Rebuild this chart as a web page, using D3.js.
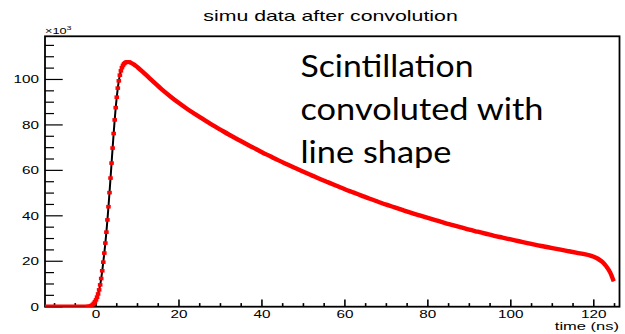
<!DOCTYPE html>
<html>
<head>
<meta charset="utf-8">
<script src="https://cdn.jsdelivr.net/npm/d3@7"></script>
<style>
  body { margin: 0; background: #fff; }
  svg { display: block; font-family: "Liberation Sans", Arial, Helvetica, sans-serif; }
</style>
</head>
<body>
<svg id="chart"></svg>
<script>
// time in ns, amplitude in units of 10^3
var baseTimes  = [-13, -12, -11, -10, -9, -8, -7, -6, -5, -4, -3, -2];
var baseValues = [0, 0, 0, 0, 0, 0, 0, 0, 0, 0, 0, 0];

// rising edge, sampled finer (markers visible here)
var riseTimes  = [-2, -1.75, -1.5, -1.25, -1, -0.75, -0.5, -0.25, 0, 0.25, 0.5, 0.75,
                  1, 1.25, 1.5, 1.75, 2, 2.25, 2.5, 2.75, 3, 3.25, 3.5, 3.75,
                  4, 4.25, 4.5, 4.75, 5, 5.25, 5.5, 5.75, 6, 6.25, 6.5, 6.75,
                  7, 7.25, 7.5, 7.75, 8];
var riseValues = [0, 0.1, 0.2, 0.35, 0.6, 1.0, 1.5, 2.2, 3.0, 4.2, 5.6, 7.4,
                  9.6, 12.4, 15.8, 19.6, 23.6, 28.0, 32.8, 38.2, 44.0, 50.2, 56.6, 63.2,
                  69.8, 76.2, 82.2, 87.6, 92.2, 96.2, 99.4, 101.9, 103.8, 105.2, 106.2, 106.9,
                  107.3, 107.6, 107.7, 107.7, 107.6];

// decay tail
var tailTimes  = [8, 9, 10, 11, 12, 13, 14, 16, 18, 20, 22, 24, 26, 28, 30, 32, 34, 36, 38, 40,
                  42, 44, 46, 48, 50, 52, 54, 56, 58, 60, 62, 64, 66, 68, 70, 72, 74, 76, 78, 80,
                  82, 84, 86, 88, 90, 92, 94, 96, 98, 100, 102, 104, 106, 108, 110, 112, 114, 116, 118,
                  119, 120, 121, 122, 123, 124, 124.8];
var tailValues = [107.6, 106.8, 105.4, 103.8, 102.1, 100.4, 98.7, 95.4, 92.4, 89.6, 87.0, 84.6, 82.3, 80.0, 77.9, 75.8, 73.8, 71.8, 69.9, 68.0,
                  66.2, 64.4, 62.7, 61.0, 59.4, 57.8, 56.2, 54.7, 53.2, 51.7, 50.3, 48.9, 47.5, 46.2, 44.9, 43.7, 42.5, 41.3, 40.2, 39.1,
                  38.0, 36.9, 35.9, 34.9, 33.9, 33.0, 32.1, 31.2, 30.4, 29.6, 28.8, 28.0, 27.2, 26.5, 25.8, 25.1, 24.4, 23.7, 23.0,
                  22.6, 22.0, 21.1, 19.8, 17.8, 14.9, 11.2];

var xTickLabels = [0, 20, 40, 60, 80, 100, 120];
var yTickLabels = [0, 20, 40, 60, 80, 100];
var titleText = "simu data after convolution";
var xAxisTitle = "time (ns)";
var noteLines = ["Scintillation", "convoluted with", "line shape"];

var w = 625, h = 334;
var frame = {left: 45, right: 619.5, top: 36.3, bottom: 306.7};
var sx = 1.5; // labels in the picture are stretched horizontally

var x = d3.scaleLinear().domain([-12.3, 126.2]).range([frame.left, frame.right]);
var y = d3.scaleLinear().domain([0, 119]).range([frame.bottom, frame.top]);

var svg = d3.select("#chart").attr("width", w).attr("height", h);

function zip(ts, vs) {
    return ts.map(function(t, i) { return {t: t, v: vs[i]}; });
}
var base = zip(baseTimes, baseValues);
var rise = zip(riseTimes, riseValues);
var tail = zip(tailTimes, tailValues);
var all = base.concat(rise.slice(1), tail.slice(1));

svg.append("defs").append("clipPath").attr("id", "clip")
    .append("rect")
    .attr("x", frame.left).attr("y", frame.top)
    .attr("width", frame.right - frame.left)
    .attr("height", frame.bottom - frame.top);

// ticks (inside the frame, like ROOT)
var minorX = d3.range(-10, 126, 5);
svg.append("g").selectAll("line")
    .data(minorX)
    .enter().append("line")
    .attr("x1", function(d) { return x(d); })
    .attr("x2", function(d) { return x(d); })
    .attr("y1", frame.bottom)
    .attr("y2", function(d) { return d % 20 === 0 ? frame.bottom - 7.3 : frame.bottom - 3.6; })
    .attr("stroke", "#000").attr("stroke-width", 1.6);

var minorY = d3.range(0, 116, 5);
svg.append("g").selectAll("line")
    .data(minorY)
    .enter().append("line")
    .attr("y1", function(d) { return y(d); })
    .attr("y2", function(d) { return y(d); })
    .attr("x1", frame.left)
    .attr("x2", function(d) { return d % 20 === 0 ? frame.left + 17.7 : frame.left + 9; })
    .attr("stroke", "#000").attr("stroke-width", 1.2);

// frame
svg.append("rect")
    .attr("x", frame.left).attr("y", frame.top)
    .attr("width", frame.right - frame.left)
    .attr("height", frame.bottom - frame.top)
    .attr("fill", "none").attr("stroke", "#000").attr("stroke-width", 1.8);

// tick labels
svg.append("g").selectAll("text")
    .data(xTickLabels)
    .enter().append("text")
    .attr("transform", function(d) { return "translate(" + x(d) + ",318.4) scale(" + sx + ",1)"; })
    .attr("text-anchor", "middle")
    .attr("font-size", 10.2)
    .text(function(d) { return d; });

svg.append("g").selectAll("text")
    .data(yTickLabels)
    .enter().append("text")
    .attr("transform", function(d) { return "translate(39," + (y(d) + 4) + ") scale(" + sx + ",1)"; })
    .attr("text-anchor", "end")
    .attr("font-size", 10.2)
    .text(function(d) { return d; });

// exponent label
var expo = svg.append("text")
    .attr("transform", "translate(45,34.3) scale(" + sx + ",1)")
    .attr("font-size", 8.5);
expo.append("tspan").text("\u00d710");
expo.append("tspan").attr("font-size", 6).attr("dy", -4.5).text("3");

svg.append("text")
    .attr("transform", "translate(619,329.5) scale(" + sx + ",1)")
    .attr("text-anchor", "end")
    .attr("font-size", 11)
    .text(xAxisTitle);

svg.append("text")
    .attr("transform", "translate(330.5,21.2) scale(" + sx + ",1)")
    .attr("text-anchor", "middle")
    .attr("font-size", 14.2)
    .text(titleText);

// curve
var plot = svg.append("g").attr("clip-path", "url(#clip)");
var line = d3.line()
    .x(function(d) { return x(d.t); })
    .y(function(d) { return y(d.v); })
    .curve(d3.curveMonotoneX);

plot.append("path")
    .datum(all)
    .attr("d", line)
    .attr("fill", "none").attr("stroke", "#000").attr("stroke-width", 2);

[base, tail].forEach(function(seg) {
    plot.append("path")
        .datum(seg)
        .attr("d", line)
        .attr("fill", "none").attr("stroke", "#ff0000")
        .attr("stroke-width", 4.4).attr("stroke-linejoin", "round");
});

plot.selectAll(".marker")
    .data(rise)
    .enter().append("rect")
    .classed("marker", true)
    .attr("x", function(d) { return x(d.t) - 2.3; })
    .attr("y", function(d) { return y(d.v) - 1.8; })
    .attr("width", 4.6)
    .attr("height", 3.6)
    .attr("fill", "#ff0000");

// annotation pasted on the slide
var note = svg.append("g")
    .attr("font-family", "Lato, 'Open Sans', sans-serif")
    .attr("font-size", 31);
var noteWidths = [173, 243, 151];
noteLines.forEach(function(s, i) {
    note.append("text")
        .attr("x", 300.5)
        .attr("y", 77 + i * 43)
        .attr("textLength", noteWidths[i])
        .attr("lengthAdjust", "spacingAndGlyphs")
        .attr("fill", "#000")
        .text(s);
});
</script>
</body>
</html>
